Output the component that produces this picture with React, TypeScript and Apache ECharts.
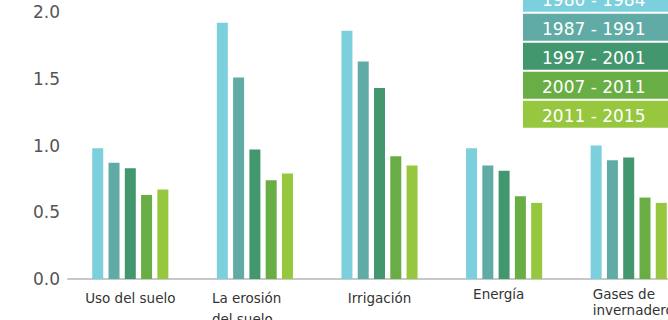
import React, { useEffect, useRef } from "react";
import * as echarts from "echarts";

const categories = [
  "Uso del suelo",
  "La erosión\ndel suelo",
  "Irrigación",
  "Energía",
  "Gases de\ninvernadero",
];
const seriesNames = ["1980 - 1984", "1987 - 1991", "1997 - 2001", "2007 - 2011", "2011 - 2015"];
const s1980 = [0.98, 1.92, 1.86, 0.98, 1.0];
const s1987 = [0.87, 1.51, 1.63, 0.85, 0.89];
const s1997 = [0.83, 0.97, 1.43, 0.81, 0.91];
const s2007 = [0.63, 0.74, 0.92, 0.62, 0.61];
const s2011 = [0.67, 0.79, 0.85, 0.57, 0.57];
const yTicks = [0, 0.5, 1.0, 1.5, 2.0];

// label line styles (layout only), one list of rich style keys per category
const labelLineStyles = [["n"], ["w1", "w2"], ["n"], ["e"], ["g1", "g2"]];

const colors = ["#7ccfdc", "#61aba7", "#42976e", "#68ae44", "#96c73e"];
const FONT = "DejaVu Sans";

export default function App() {
  const ref = useRef<HTMLDivElement>(null);
  useEffect(() => {
    if (!ref.current) return;
    const chart = echarts.init(ref.current, null, { renderer: "svg" });
    const values = [s1980, s1987, s1997, s2007, s2011];
    const legendTop = -15.3;
    const legendStep = 29;
    const graphic: any[] = [];
    seriesNames.forEach((name, i) => {
      graphic.push({
        type: "rect",
        x: 523,
        y: legendTop + i * legendStep,
        shape: { x: 0, y: 0, width: 170, height: 27 },
        style: { fill: colors[i] },
        z: 10,
      });
      graphic.push({
        type: "text",
        x: 542,
        y: legendTop + i * legendStep + 15,
        style: {
          text: name,
          fill: "#ffffff",
          font: `17px "${FONT}"`,
          verticalAlign: "middle",
        },
        z: 11,
      });
    });
    const base = { fontSize: 13.5, color: "#333", fontFamily: FONT };
    chart.setOption({
      animation: false,
      grid: {
        left: 68,
        right: -23,
        top: 12,
        bottom: 41,
        containLabel: false,
        outerBoundsMode: "none",
      },
      xAxis: {
        type: "category",
        data: categories,
        axisTick: { show: false },
        axisLine: { lineStyle: { color: "#c8c8c8", width: 2 } },
        axisLabel: {
          interval: 0,
          margin: 9,
          ...base,
          formatter: (v: string, idx: number) => {
            const keys = labelLineStyles[idx] || ["n"];
            return v
              .split("\n")
              .map((l, k) => `{${keys[Math.min(k, keys.length - 1)]}|${l}}`)
              .join("\n");
          },
          rich: {
            n: { ...base, lineHeight: 19.6 },
            e: { ...base, lineHeight: 11, width: 62, align: "left" },
            w1: { ...base, lineHeight: 19.6, width: 86, align: "left" },
            w2: { ...base, lineHeight: 21.8, width: 86, align: "left" },
            g1: { ...base, lineHeight: 11, width: 72, align: "left" },
            g2: { ...base, lineHeight: 21, width: 72, align: "left" },
          },
        },
      },
      yAxis: {
        type: "value",
        min: yTicks[0],
        max: yTicks[yTicks.length - 1],
        interval: 0.5,
        splitLine: { show: false },
        axisLine: { show: false },
        axisTick: { show: false },
        axisLabel: {
          margin: 8,
          fontSize: 17,
          color: "#555",
          fontFamily: FONT,
          formatter: (v: number) => v.toFixed(1),
        },
      },
      series: seriesNames.map((name, i) => ({
        name,
        type: "bar",
        data: values[i],
        barWidth: 11,
        barGap: "48%",
        itemStyle: { color: colors[i] },
      })),
      graphic,
    });
    return () => chart.dispose();
  }, []);
  return (
    <div
      ref={ref}
      style={{ position: "absolute", left: 0, top: 0, width: 668, height: 320 }}
    />
  );
}
